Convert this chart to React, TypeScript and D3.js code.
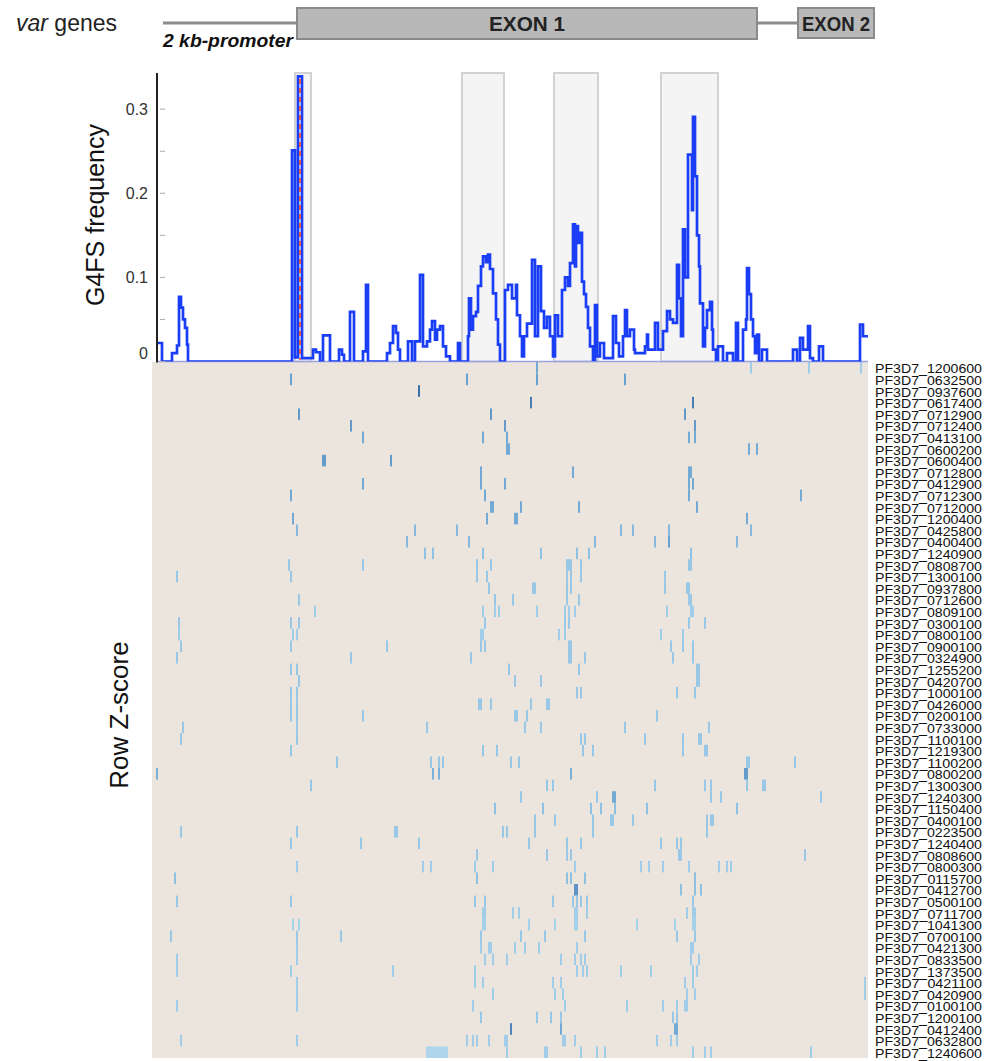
import * as d3 from 'd3'

// row order of the heatmap (top to bottom)
const geneIds = [
  '1200600', '0632500', '0937600', '0617400', '0712900', '0712400', '0413100', '0600200', '0600400', '0712800',
  '0412900', '0712300', '0712000', '1200400', '0425800', '0400400', '1240900', '0808700', '1300100', '0937800',
  '0712600', '0809100', '0300100', '0800100', '0900100', '0324900', '1255200', '0420700', '1000100', '0426000',
  '0200100', '0733000', '1100100', '1219300', '1100200', '0800200', '1300300', '1240300', '1150400', '0400100',
  '0223500', '1240400', '0808600', '0800300', '0115700', '0412700', '0500100', '0711700', '1041300', '0700100',
  '0421300', '0833500', '1373500', '0421100', '0420900', '0100100', '1200100', '0412400', '0632800', '1240600',
]

// number of position bins along the gene (promoter + exon 1 + intron + exon 2)
const nBins = 358

// G4FS frequency, as [bin, value] steps
const freqSteps: [number, number][] = [
  [2.5, 0.022], [5, 0], [10, 0.01], [12.5, 0.019], [13.5, 0.077], [14.5, 0.064], [15.5, 0.05], [16.5, 0.04],
  [17.5, 0.02], [18, 0], [70, 0.251], [71.5, 0.005], [73, 0.339], [75, 0.004], [80.5, 0.014], [82, 0.011],
  [84, 0], [85.5, 0.031], [89, 0], [93.5, 0.014], [95, 0.008], [96, 0], [99, 0.059], [101, 0], [105.5, 0.012],
  [107, 0.091], [108, 0], [117.5, 0.01], [119, 0.022], [120.5, 0.042], [122, 0.034], [123, 0.014], [124, 0],
  [128, 0.024], [130, 0], [131.5, 0.024], [134, 0.103], [135.5, 0.018], [137.5, 0.024], [139, 0.038],
  [140, 0.048], [141.5, 0.026], [142.5, 0.038], [144, 0.042], [145.5, 0.018], [147, 0.006], [149, 0],
  [153, 0.022], [154, 0], [158, 0.03], [158.5, 0.075], [159.5, 0.038], [160.5, 0.054], [162, 0.059],
  [163, 0.09], [164.5, 0.113], [165.5, 0.125], [167, 0.118], [168, 0.127], [169, 0.11], [170.5, 0.081],
  [172, 0.05], [173, 0.02], [174, 0], [176.5, 0.085], [178, 0.091], [180, 0.075], [182, 0.091], [182.5, 0.055],
  [184, 0.03], [185, 0.006], [186, 0.03], [187.5, 0.045], [190, 0.121], [191.5, 0.03], [193, 0.113],
  [194.5, 0.06], [196, 0.04], [197.5, 0.053], [199, 0.03], [200.5, 0.006], [201.5, 0.055], [203, 0.03],
  [205, 0.085], [206.5, 0.1], [208, 0.09], [209, 0.117], [210.5, 0.163], [211.5, 0.113], [212, 0.161],
  [213, 0.141], [214, 0.153], [215, 0.095], [216, 0.08], [217, 0.065], [218, 0.04], [219, 0.018],
  [220.5, 0.002], [221.5, 0.067], [222.5, 0.006], [224, 0.022], [226, 0.004], [230.5, 0.054], [232, 0.022],
  [233.5, 0.006], [235.5, 0.03], [236.5, 0.061], [237.5, 0.03], [239, 0.038], [241, 0.014], [241.5, 0.01],
  [246.5, 0.018], [247.5, 0.032], [248, 0.014], [251.5, 0.046], [253, 0.014], [255.5, 0.036], [257.5, 0.06],
  [259, 0.05], [260.5, 0.046], [262.5, 0.115], [263.5, 0.075], [264.5, 0.03], [265.5, 0.157], [266.5, 0.1],
  [268, 0.246], [270, 0.18], [270.5, 0.291], [271.5, 0.22], [272.5, 0.15], [273.5, 0.113], [274, 0.069],
  [275.5, 0.018], [276.5, 0.04], [277.5, 0.061], [279, 0.071], [280, 0.038], [280.5, 0.014], [282, 0.002],
  [283, 0.018], [285.5, 0], [287.5, 0.01], [290.5, 0], [292, 0.046], [293, 0], [295.5, 0.038], [297, 0.05],
  [297.5, 0.111], [298.5, 0.08], [299.5, 0.05], [300.5, 0.03], [301.5, 0.01], [302.5, 0.032], [303.5, 0],
  [305, 0.014], [307.5, 0], [320.5, 0.014], [322.5, 0], [324, 0.028], [325.5, 0.014], [328, 0.042],
  [329, 0.004], [330.5, 0], [333.5, 0.018], [335.5, 0], [354, 0.044], [355.5, 0.03], [358, 0.03],
]

// shaded G4FS hotspots [start bin, end bin]
const hotspots: [number, number][] = [[71.5, 79.5], [155, 176], [201, 223], [254.5, 283]]
const peakBin = 74
const yMax = 0.343
const yTicks = [0, 0.05, 0.1, 0.15, 0.2, 0.25, 0.3]
const yLabels = [0, 0.1, 0.2, 0.3]

// gene model: [start bin, end bin]
const promoter: [number, number] = [5.5, 72.5]
const exon1: [number, number] = [72.5, 302.5]
const intron: [number, number] = [302.5, 323]
const exon2: [number, number] = [323, 361]

// heatmap: [row, bins, row z-score]
const hits: [number, number[], number][] = [
  [0, [299, 328, 354], 2.0],
  [0, [192], 3.0],
  [1, [69, 157, 192, 236], 3.2],
  [2, [133], 4.6],
  [3, [189, 270], 4.2],
  [4, [73, 169, 266], 3.4],
  [5, [99, 176, 271], 3.4],
  [6, [105, 165, 177, 268, 271], 3.0],
  [7, [177, 178, 298, 302], 3.0],
  [8, [85, 86, 119], 3.4],
  [9, [164, 210, 268, 269], 3.0],
  [10, [105, 164, 176, 268, 270], 3.0],
  [11, [69, 166, 268, 324], 3.0],
  [12, [169, 170, 184, 213, 272], 3.0],
  [13, [70, 167, 181, 182, 297], 3.0],
  [14, [72, 131, 152, 234, 240, 258, 299], 2.6],
  [15, [127, 158, 221, 251, 292], 2.6],
  [15, [258], 3.2],
  [16, [136, 140, 165, 194, 212, 218, 269], 2.4],
  [17, [68, 105, 162, 169, 207, 208, 209, 214, 268, 269], 2.2],
  [18, [12, 69, 162, 167, 207, 209, 214, 256], 2.2],
  [19, [168, 190, 191, 207, 209, 256, 267, 268], 2.2],
  [20, [73, 171, 180, 207, 213, 268, 269], 2.2],
  [21, [81, 165, 171, 173, 192, 206, 208, 211, 257, 269, 270], 2.0],
  [22, [13, 69, 73, 166, 206, 208, 268, 276], 2.2],
  [23, [13, 70, 72, 164, 165, 203, 206, 254, 265], 2.0],
  [24, [14, 69, 117, 164, 166, 208, 209, 259, 265, 270], 2.2],
  [25, [12, 99, 159, 208, 209, 216, 260, 270], 2.2],
  [26, [69, 72, 178, 213, 272, 273], 2.2],
  [27, [73, 181, 194, 272, 273], 2.2],
  [28, [69, 72, 212, 214, 262, 271], 2.2],
  [29, [69, 72, 163, 164, 169, 189, 197, 198], 2.2],
  [30, [69, 72, 105, 181, 182, 187, 252], 2.2],
  [31, [15, 72, 137, 186, 194, 236, 278], 2.2],
  [32, [14, 72, 214, 216, 246, 265, 273, 274], 2.2],
  [33, [69, 165, 172, 215, 220, 265, 276, 277], 2.2],
  [34, [92, 139, 143, 145, 179, 183, 297, 298, 321], 2.2],
  [35, [2, 140, 143, 209], 2.8],
  [35, [296, 297], 3.4],
  [36, [79, 197, 200, 251, 276, 279, 297, 305, 306], 2.2],
  [37, [184, 222, 279, 284, 334], 2.2],
  [37, [230, 231], 3.0],
  [38, [171, 195, 219, 224, 231, 247, 292], 2.4],
  [39, [191, 201, 220, 229, 230, 240, 277, 279, 280], 2.2],
  [40, [14, 72, 121, 122, 175, 177, 191, 220, 277], 2.2],
  [41, [69, 104, 133, 188, 207, 214, 254, 262, 264], 2.2],
  [42, [162, 197, 207, 209, 263, 264, 326], 2.2],
  [43, [72, 135, 139, 161, 170, 211, 244, 248, 255, 268, 283, 287, 289], 2.0],
  [44, [11, 162, 207, 209, 216, 271], 2.4],
  [45, [211, 212], 3.6],
  [45, [264, 271, 274], 2.4],
  [46, [12, 69, 161, 166, 200, 210, 212, 214, 217, 270], 2.2],
  [47, [165, 166, 180, 183, 211, 212, 217, 267, 270, 271], 2.0],
  [48, [70, 73, 165, 166, 188, 201, 211, 212, 242, 261, 270, 271], 1.9],
  [49, [9, 72, 94, 164, 184, 196, 216, 262, 271], 2.2],
  [50, [72, 164, 168, 169, 181, 186, 193, 212, 269, 270], 2.0],
  [51, [12, 72, 166, 170, 177, 204, 211, 214, 216, 269, 273], 2.0],
  [52, [12, 69, 120, 161, 212, 215, 217, 234, 249, 270, 272], 2.0],
  [53, [72, 161, 165, 200, 204, 266, 270, 356], 2.0],
  [54, [72, 170, 201, 205, 267, 271, 356], 2.0],
  [55, [12, 72, 160, 206, 237, 255, 262, 266, 267], 2.0],
  [56, [164, 192, 199, 204, 260, 262], 2.2],
  [57, [179], 4.0],
  [57, [204, 261, 262], 3.0],
  [58, [14, 72, 157, 160, 162, 168, 176, 177, 205, 206, 211, 252, 259, 262], 2.0],
  [59, [137, 138, 139, 140, 141, 142, 143, 144, 145, 146, 147], 1.7],
  [59, [177, 196, 197, 214, 222, 226, 270, 276, 279, 329], 2.0],
]

const font = 'Liberation Sans, Arial, Helvetica, sans-serif'

export default function App() {
  const W = 984
  const H = 1061

  const x = d3.scaleLinear().domain([0, nBins]).range([152, 868])
  const y = d3.scaleLinear().domain([0, yMax]).range([361.5, 73])
  const row = d3.scaleBand<number>().domain(d3.range(geneIds.length)).range([362, 1058])
  const color = d3.scaleLinear<string>()
    .domain([0, 1.6, 2.4, 3.2, 4.6])
    .range(['#ece5de', '#b2d8ed', '#8fc2e2', '#69a2d0', '#3c70a9'])
    .clamp(true)

  const line = d3.line<[number, number]>()
    .x(d => x(d[0]))
    .y(d => y(d[1]))
    .curve(d3.curveStepAfter)

  const cells = hits.flatMap(([r, bins, z]) => bins.map(b => ({ r, b, z })))
  const axisX = x(2.5)
  const midY = 23

  return (
    <svg width={W} height={H} style={{ position: 'absolute', left: 0, top: 0, background: '#fff' }}>
      {/* gene model */}
      <text x={16} y={31} fontFamily={font} fontSize={23} fill="#222">
        <tspan fontStyle="italic">var</tspan> genes
      </text>
      <line x1={x(promoter[0])} x2={x(promoter[1])} y1={midY} y2={midY} stroke="#8c8c8c" strokeWidth={3} />
      <line x1={x(intron[0])} x2={x(intron[1])} y1={midY} y2={midY} stroke="#8c8c8c" strokeWidth={3} />
      <rect x={x(exon1[0])} y={8} width={x(exon1[1]) - x(exon1[0])} height={31}
        fill="#b8b8b8" stroke="#8a8a8a" strokeWidth={2} />
      <rect x={x(exon2[0])} y={8} width={x(exon2[1]) - x(exon2[0])} height={30}
        fill="#b8b8b8" stroke="#8a8a8a" strokeWidth={2} />
      <text x={(x(exon1[0]) + x(exon1[1])) / 2} y={31} textAnchor="middle" fontFamily={font}
        fontWeight="bold" fontSize={20} textLength={76} lengthAdjust="spacingAndGlyphs" fill="#222">EXON 1</text>
      <text x={(x(exon2[0]) + x(exon2[1])) / 2} y={31} textAnchor="middle" fontFamily={font}
        fontWeight="bold" fontSize={20} textLength={68} lengthAdjust="spacingAndGlyphs" fill="#222">EXON 2</text>
      <text x={x(promoter[0])} y={47} fontFamily={font} fontWeight="bold" fontStyle="italic" fontSize={18}
        textLength={130} lengthAdjust="spacingAndGlyphs" fill="#111">2 kb-promoter</text>

      {/* heatmap */}
      <rect x={x(0)} y={362} width={x(nBins) - x(0)} height={696} fill={color(0)} />
      {cells.map((d, i) => (
        <rect key={i} x={x(d.b)} y={row(d.r)} width={x(d.b + 1) - x(d.b)} height={row.bandwidth()}
          fill={color(d.z)} />
      ))}
      {geneIds.map((g, i) => (
        <text key={g} x={875} y={(row(i) ?? 0) + row.bandwidth() / 2 + 1} dominantBaseline="central"
          fontFamily={font} fontSize={13.5} textLength={107} lengthAdjust="spacingAndGlyphs" fill="#111">
          {'PF3D7_' + g}
        </text>
      ))}
      <text transform={`translate(128,715) rotate(-90)`} textAnchor="middle" fontFamily={font}
        fontSize={26} fill="#111">Row Z-score</text>

      {/* G4FS frequency plot */}
      <rect x={axisX} y={60} width={x(nBins) - axisX} height={301.5} fill="#fff" />
      {hotspots.map(([a, b], i) => (
        <rect key={i} x={x(a)} y={y(yMax)} width={x(b) - x(a)} height={y(0) - y(yMax)}
          fill="#f4f4f4" stroke="#d2d2d2" strokeWidth={2} />
      ))}
      <clipPath id="plotClip">
        <rect x={axisX} y={60} width={x(nBins) - axisX + 2} height={y(0) - 60} />
      </clipPath>
      <line x1={axisX} x2={x(nBins)} y1={y(0)} y2={y(0)} stroke="#9aa3e2" strokeWidth={1.5} />
      <path d={line(freqSteps) ?? ''} fill="none" stroke="#1a3ef5" strokeWidth={2.7}
        strokeLinejoin="miter" clipPath="url(#plotClip)" />
      <line x1={x(peakBin)} x2={x(peakBin)} y1={y(0.336)} y2={y(0.002)} stroke="#e4584c"
        strokeWidth={2} strokeDasharray="5,4" />
      <line x1={axisX} x2={axisX} y1={y(yMax)} y2={y(0) + 1} stroke="#222" strokeWidth={2} />
      {yTicks.map(t => (
        <line key={t} x1={axisX + 3} x2={axisX + 8} y1={y(t)} y2={y(t)} stroke="#aaa" strokeWidth={1} />
      ))}
      {yLabels.map(t => (
        <text key={t} x={148} y={y(t) + (t === 0 ? -8 : 0)} textAnchor="end" dominantBaseline="central"
          fontFamily={font} fontSize={16} fill="#333">{t === 0 ? '0' : t.toFixed(1)}</text>
      ))}
      <text transform={`translate(104,215) rotate(-90)`} textAnchor="middle" fontFamily={font}
        fontSize={25} fill="#111">G4FS frequency</text>
    </svg>
  )
}
